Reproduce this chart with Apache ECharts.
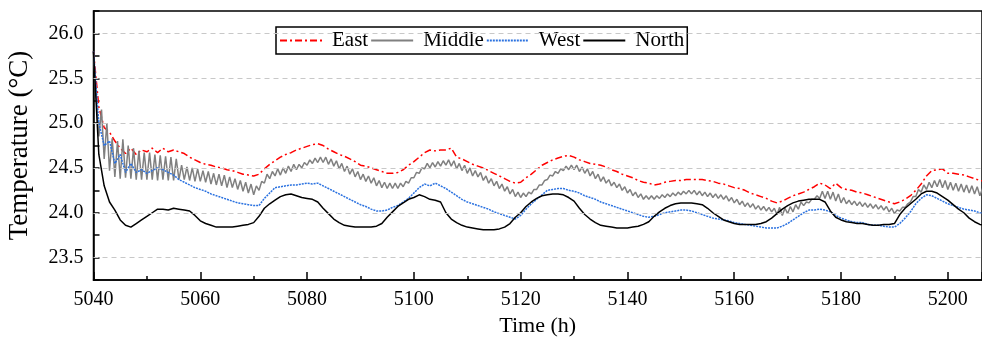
<!DOCTYPE html>
<html>
<head>
<meta charset="utf-8">
<script src="https://cdn.jsdelivr.net/npm/echarts@6/dist/echarts.min.js"></script>
<style>
  html, body { margin: 0; padding: 0; background: #fff; }
  #chart { width: 982px; height: 337px; }
</style>
</head>
<body>
<div id="chart"></div>
<script>
const startHour = 5040

// hourly readings from 5040 h, one row per day (24 values each)
const east = [
  25.80, 25.18, 24.95, 24.90, 24.80, 24.72, 24.66, 24.72, 24.65, 24.70, 24.68, 24.72, 24.67, 24.72, 24.68, 24.70, 24.68, 24.66, 24.62, 24.59, 24.56, 24.54, 24.53, 24.51,
  24.50, 24.48, 24.47, 24.45, 24.43, 24.42, 24.41, 24.43, 24.49, 24.54, 24.58, 24.62, 24.65, 24.67, 24.70, 24.72, 24.74, 24.76, 24.77, 24.75, 24.71, 24.68, 24.65, 24.63,
  24.60, 24.57, 24.53, 24.52, 24.50, 24.48, 24.46, 24.44, 24.44, 24.45, 24.48, 24.53, 24.57, 24.62, 24.67, 24.70, 24.69, 24.70, 24.70, 24.72, 24.62, 24.60, 24.57, 24.54,
  24.52, 24.50, 24.47, 24.44, 24.41, 24.38, 24.35, 24.33, 24.34, 24.39, 24.43, 24.48, 24.53, 24.56, 24.59, 24.61, 24.63, 24.64, 24.62, 24.59, 24.57, 24.55, 24.54, 24.53,
  24.51, 24.48, 24.46, 24.43, 24.41, 24.39, 24.36, 24.34, 24.33, 24.31, 24.32, 24.34, 24.35, 24.36, 24.36, 24.37, 24.37, 24.37, 24.37, 24.36, 24.35, 24.33, 24.32, 24.30,
  24.28, 24.27, 24.25, 24.22, 24.20, 24.18, 24.16, 24.13, 24.11, 24.13, 24.16, 24.19, 24.21, 24.23, 24.26, 24.29, 24.33, 24.31, 24.27, 24.33, 24.28, 24.26, 24.25, 24.23,
  24.22, 24.20, 24.18, 24.16, 24.14, 24.12, 24.10, 24.12, 24.15, 24.19, 24.25, 24.32, 24.41, 24.47, 24.48, 24.49, 24.44, 24.44, 24.43, 24.42, 24.40, 24.38, 24.36, 24.35
]

// middle zone zigzags every hour: troughs on the hour, peaks on the half hour
const middleLow = [
  25.80, 24.85, 24.60, 24.47, 24.40, 24.38, 24.39, 24.38, 24.37, 24.37, 24.37, 24.37, 24.36, 24.37, 24.36, 24.36, 24.37, 24.37, 24.36, 24.35, 24.35, 24.34, 24.32, 24.31,
  24.30, 24.28, 24.28, 24.26, 24.24, 24.22, 24.20, 24.25, 24.33, 24.38, 24.41, 24.42, 24.44, 24.46, 24.48, 24.50, 24.53, 24.55, 24.56, 24.56, 24.54, 24.52, 24.49, 24.46,
  24.43, 24.40, 24.37, 24.35, 24.33, 24.30, 24.28, 24.27, 24.27, 24.27, 24.29, 24.33, 24.39, 24.44, 24.49, 24.50, 24.51, 24.52, 24.53, 24.52, 24.49, 24.47, 24.44, 24.41,
  24.40, 24.36, 24.33, 24.30, 24.27, 24.24, 24.21, 24.18, 24.17, 24.18, 24.21, 24.26, 24.31, 24.37, 24.41, 24.44, 24.47, 24.48, 24.48, 24.46, 24.44, 24.41, 24.38, 24.35,
  24.33, 24.30, 24.28, 24.25, 24.22, 24.19, 24.17, 24.15, 24.15, 24.15, 24.16, 24.17, 24.18, 24.19, 24.20, 24.21, 24.21, 24.20, 24.19, 24.18, 24.17, 24.16, 24.15, 24.13,
  24.11, 24.09, 24.07, 24.06, 24.04, 24.03, 24.02, 24.01, 23.98, 23.97, 23.99, 24.01, 24.04, 24.08, 24.11, 24.15, 24.16, 24.16, 24.15, 24.13, 24.11, 24.10, 24.09, 24.08,
  24.07, 24.06, 24.05, 24.04, 24.03, 24.01, 23.99, 24.02, 24.06, 24.12, 24.18, 24.23, 24.26, 24.28, 24.29, 24.28, 24.26, 24.25, 24.24, 24.23, 24.22, 24.21, 24.19, 24.18
]
const middleHigh = [
  25.30, 25.15, 25.00, 24.83, 24.80, 24.82, 24.75, 24.72, 24.69, 24.67, 24.67, 24.65, 24.64, 24.63, 24.62, 24.60, 24.53, 24.51, 24.50, 24.49, 24.47, 24.46, 24.44, 24.43,
  24.42, 24.40, 24.38, 24.36, 24.34, 24.32, 24.30, 24.35, 24.43, 24.46, 24.49, 24.50, 24.52, 24.54, 24.54, 24.56, 24.59, 24.61, 24.62, 24.62, 24.60, 24.58, 24.55, 24.52,
  24.49, 24.46, 24.43, 24.41, 24.39, 24.36, 24.34, 24.33, 24.33, 24.33, 24.35, 24.39, 24.45, 24.50, 24.55, 24.56, 24.57, 24.58, 24.59, 24.58, 24.55, 24.53, 24.50, 24.47,
  24.45, 24.41, 24.38, 24.35, 24.32, 24.29, 24.26, 24.23, 24.22, 24.23, 24.26, 24.31, 24.36, 24.42, 24.46, 24.49, 24.52, 24.53, 24.53, 24.51, 24.49, 24.46, 24.43, 24.40,
  24.37, 24.34, 24.32, 24.29, 24.26, 24.23, 24.21, 24.19, 24.19, 24.19, 24.20, 24.21, 24.22, 24.23, 24.24, 24.25, 24.25, 24.24, 24.23, 24.22, 24.21, 24.20, 24.19, 24.17,
  24.15, 24.13, 24.11, 24.10, 24.08, 24.07, 24.06, 24.05, 24.06, 24.05, 24.07, 24.09, 24.12, 24.12, 24.15, 24.19, 24.24, 24.24, 24.23, 24.21, 24.17, 24.14, 24.13, 24.12,
  24.11, 24.10, 24.09, 24.08, 24.07, 24.05, 24.03, 24.06, 24.10, 24.18, 24.26, 24.31, 24.34, 24.36, 24.37, 24.36, 24.34, 24.33, 24.32, 24.31, 24.30, 24.29, 24.27, 24.26
]

const west = [
  25.80, 25.00, 24.75, 24.80, 24.55, 24.65, 24.45, 24.55, 24.45, 24.48, 24.44, 24.47, 24.50, 24.48, 24.45, 24.42, 24.37, 24.34, 24.31, 24.28, 24.26, 24.24, 24.21, 24.19,
  24.17, 24.15, 24.13, 24.11, 24.10, 24.09, 24.08, 24.08, 24.16, 24.22, 24.28, 24.29, 24.30, 24.31, 24.31, 24.32, 24.33, 24.32, 24.33, 24.30, 24.27, 24.24, 24.21, 24.18,
  24.15, 24.12, 24.09, 24.07, 24.04, 24.02, 24.02, 24.03, 24.06, 24.08, 24.12, 24.16, 24.22, 24.28, 24.32, 24.30, 24.33, 24.30, 24.27, 24.23, 24.19, 24.15, 24.12, 24.10,
  24.08, 24.06, 24.04, 24.01, 23.99, 23.97, 23.95, 23.93, 23.97, 24.04, 24.10, 24.15, 24.20, 24.25, 24.26, 24.27, 24.27, 24.25, 24.24, 24.22, 24.19, 24.17, 24.15, 24.12,
  24.10, 24.08, 24.06, 24.04, 24.02, 24.00, 23.98, 23.96, 23.95, 23.96, 23.98, 24.00, 24.01, 24.02, 24.03, 24.03, 24.02, 24.00, 23.98, 23.96, 23.94, 23.93, 23.92, 23.91,
  23.89, 23.88, 23.87, 23.86, 23.85, 23.84, 23.83, 23.83, 23.83, 23.85, 23.88, 23.92, 23.96, 24.00, 24.03, 24.03, 24.04, 24.03, 24.01, 23.97, 23.94, 23.92, 23.90, 23.89,
  23.89, 23.87, 23.86, 23.86, 23.85, 23.84, 23.84, 23.88, 23.94, 24.01, 24.10, 24.16, 24.20, 24.19, 24.16, 24.13, 24.10, 24.08, 24.06, 24.04, 24.03, 24.02, 24.00, 23.99
]

const north = [
  25.80, 24.65, 24.30, 24.12, 24.03, 23.92, 23.86, 23.84, 23.88, 23.92, 23.96, 24.00, 24.04, 24.04, 24.03, 24.05, 24.04, 24.03, 24.02, 23.97, 23.91, 23.88, 23.86, 23.84,
  23.84, 23.84, 23.84, 23.85, 23.86, 23.87, 23.89, 23.96, 24.05, 24.10, 24.14, 24.18, 24.20, 24.21, 24.19, 24.17, 24.16, 24.15, 24.12, 24.05, 23.99, 23.93, 23.89, 23.86,
  23.85, 23.84, 23.84, 23.84, 23.84, 23.85, 23.88, 23.95, 24.01, 24.07, 24.11, 24.15, 24.17, 24.20, 24.18, 24.15, 24.14, 24.12, 24.00, 23.93, 23.89, 23.86, 23.84, 23.83,
  23.82, 23.81, 23.81, 23.81, 23.82, 23.84, 23.88, 23.95, 24.00, 24.07, 24.12, 24.16, 24.19, 24.20, 24.21, 24.21, 24.20, 24.17, 24.13, 24.05, 23.98, 23.93, 23.89, 23.86,
  23.85, 23.84, 23.83, 23.83, 23.83, 23.84, 23.85, 23.87, 23.90, 23.96, 24.01, 24.05, 24.08, 24.10, 24.11, 24.11, 24.11, 24.10, 24.09, 24.05, 24.00, 23.96, 23.92, 23.90,
  23.88, 23.87, 23.87, 23.87, 23.87, 23.88, 23.90, 23.94, 23.99, 24.04, 24.08, 24.11, 24.13, 24.14, 24.15, 24.15, 24.15, 24.12, 24.02, 23.95, 23.92, 23.90, 23.89, 23.88,
  23.88, 23.87, 23.86, 23.86, 23.87, 23.87, 23.88, 23.98, 24.05, 24.10, 24.15, 24.21, 24.24, 24.24, 24.22, 24.18, 24.14, 24.09, 24.04, 24.00, 23.94, 23.90, 23.87, 23.86
]

const seriesNames = ['East', 'Middle', 'West', 'North']
// dashed horizontal guides at the labelled temperatures
const yGridValues = [23.5, 24.0, 24.5, 25.0, 25.5, 26.0]

const hourly = vals => vals.map((v, i) => [startHour + i, v])
const middleData = []
middleLow.forEach((v, i) => {
  middleData.push([startHour + i, v])
  middleData.push([startHour + i + 0.5, middleHigh[i]])
})

const font = 'Liberation Serif'
const chart = echarts.init(document.getElementById('chart'))

chart.setOption({
  animation: false,
  grid: {
    left: 93.5,
    right: 0,
    top: 11,
    bottom: 57,
    outerBoundsMode: 'none',
    containLabel: false,
    show: true,
    borderColor: '#000',
    borderWidth: 1.5
  },
  legend: {
    left: 276,
    top: 27,
    padding: [3, 3, 3, 3],
    itemGap: 2,
    itemWidth: 42,
    itemHeight: 20,
    borderColor: '#000',
    borderWidth: 1.5,
    data: seriesNames,
    itemStyle: { opacity: 0 },
    textStyle: { fontFamily: font, fontSize: 21, color: '#000', padding: [0, 0, 0, 5] }
  },
  xAxis: {
    type: 'value',
    min: 5040,
    max: 5206.4,
    interval: 20,
    name: 'Time (h)',
    nameLocation: 'middle',
    nameGap: 33,
    nameTextStyle: { fontFamily: font, fontSize: 22, color: '#000' },
    axisLine: { lineStyle: { color: '#000', width: 1.5 } },
    axisTick: { inside: true, length: 8, lineStyle: { color: '#000', width: 1.5 } },
    minorTick: { show: true, splitNumber: 2, length: 4, lineStyle: { color: '#000', width: 1.5 } },
    axisLabel: {
      fontFamily: font, fontSize: 20, color: '#000', margin: 10,
      showMaxLabel: false,
      formatter: v => ((v - 5040) % 20 === 0 ? String(v) : '')
    },
    splitLine: { show: false }
  },
  yAxis: {
    type: 'value',
    min: 23.25,
    max: 26.25,
    interval: 0.25,
    name: 'Temperature (°C)',
    nameLocation: 'middle',
    nameGap: 60,
    nameTextStyle: { fontFamily: font, fontSize: 27, color: '#000' },
    axisLine: { lineStyle: { color: '#000', width: 1.5 } },
    axisTick: { inside: true, length: 6, lineStyle: { color: '#000', width: 1.5 } },
    axisLabel: {
      fontFamily: font, fontSize: 20, color: '#000', margin: 10,
      formatter: v => (Math.abs(v * 2 - Math.round(v * 2)) < 1e-6 ? v.toFixed(1) : '')
    },
    splitLine: { show: false }
  },
  series: [
    {
      name: 'guides', type: 'line', data: [], z: 1, silent: true,
      markLine: {
        silent: true,
        symbol: ['none', 'none'],
        label: { show: false },
        lineStyle: { color: '#c8c8c8', type: [5, 4], width: 1 },
        data: yGridValues.map(v => ({ yAxis: v }))
      }
    },
    {
      name: 'East', type: 'line', symbol: 'none', data: hourly(east), z: 2,
      lineStyle: { color: '#ff0000', width: 1.5, type: [7, 3, 2, 3] },
      itemStyle: { color: '#ff0000' }
    },
    {
      name: 'Middle', type: 'line', symbol: 'none', data: middleData, z: 2,
      lineStyle: { color: '#808080', width: 1.5 },
      itemStyle: { color: '#808080' }
    },
    {
      name: 'West', type: 'line', symbol: 'none', data: hourly(west), z: 2,
      lineStyle: { color: '#2b72e0', width: 1.5, type: [2, 1] },
      itemStyle: { color: '#2b72e0' }
    },
    {
      name: 'North', type: 'line', symbol: 'none', data: hourly(north), z: 2,
      lineStyle: { color: '#000', width: 1.5 },
      itemStyle: { color: '#000' }
    }
  ]
})
</script>
</body>
</html>
